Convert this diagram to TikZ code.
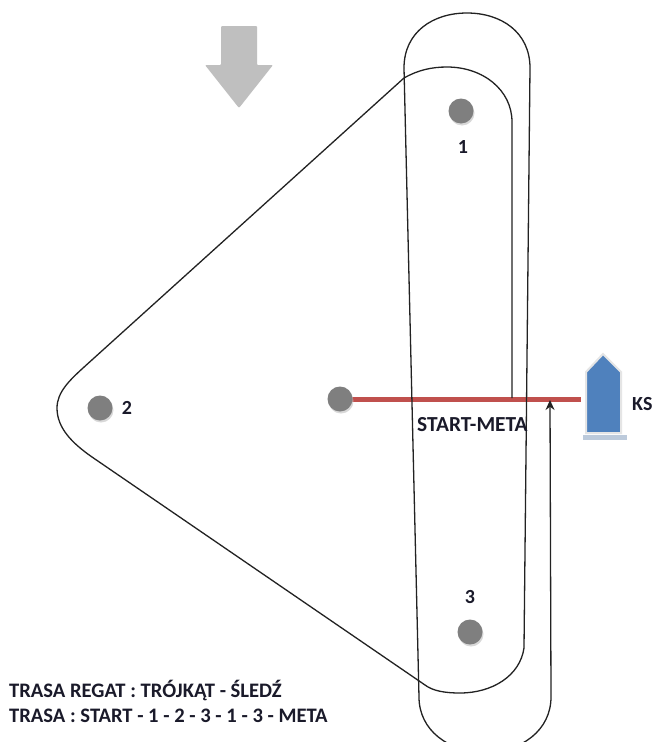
\documentclass[tikz,border=0pt]{standalone}
\usepackage{fontspec}
\setmainfont{Carlito}
\usetikzlibrary{arrows.meta,shadows}
\definecolor{dotgray}{HTML}{7F7F7F}
\definecolor{windgray}{HTML}{BFBFBF}
\definecolor{linered}{HTML}{C0504D}
\definecolor{boatblue}{HTML}{4F81BD}
\definecolor{inkc}{HTML}{222222}
\definecolor{labc}{HTML}{1A1A2A}
\tikzset{
  mark dot/.style={circle,fill=dotgray,draw=none,minimum size=25pt,inner sep=0pt,
    drop shadow={shadow xshift=1pt,shadow yshift=-2pt,fill=black!25,opacity=.6}},
  lab/.style={font=\bfseries\fontsize{20}{24}\selectfont,text=labc,inner sep=0pt},
  track/.style={draw=inkc,line width=1.3pt,line join=round},
}
\begin{document}
\begin{tikzpicture}[x=1pt,y=-1pt]
\useasboundingbox (0,0) rectangle (651,742);
\clip (0,0) rectangle (651,742);
\fill[white] (0,0) rectangle (651,742);
% wind arrow
\fill[windgray,rounded corners=1pt] (221,26) -- (257,26) -- (257,65) -- (273,65) -- (239,108) -- (205,65) -- (221,65) -- cycle;
% boat
\fill[black!20!boatblue!35] (583,435) rectangle (627,440);
\draw[draw=black!10,line width=2pt,fill=boatblue] (586,372) -- (603,354) -- (621,372) -- (621,433) -- (586,433) -- cycle;
\node[inner sep=0pt,minimum width=1pt,minimum height=1pt] (boat) at (582,399) {};
% start line, drawn from the mark's centre under the mark
\coordinate (msc) at (340,399);
\draw[linered,line width=5pt] (msc) -- (boat);
% marks
\node[mark dot] (m1) at (461,111) {};
\node[mark dot] (m2) at (100,408) {};
\node[mark dot] (m3) at (470,632) {};
\node[mark dot] (ms) at (msc) {};
\node[lab] (l1) at (463,147) {1};
\node[lab] (l2) at (127,408) {2};
\node[lab] (l3) at (470,597) {3};
\node[lab,anchor=west] (ks) at (632,404) {KS};
\coordinate (lineend) at (512,398);
\coordinate (arrowend) at (550,400);
\coordinate (outerstart) at (404,68);
% first lap track
\draw[track] (outerstart) .. controls (404,32) and (433,13) .. (467,13)
  .. controls (501,13) and (530,32) .. (530,68)
  -- (524,648) .. controls (520,676) and (492,693) .. (460,693)
  .. controls (445,693) and (433,691) .. (425,685)
  -- (92,457) .. controls (72,443) and (57,428) .. (57,408)
  .. controls (57,392) and (70,380) .. (83,368)
  -- (404,78) .. controls (418,70) and (432,67) .. (447,67)
  .. controls (483,67) and (512,90) .. (512,122)
  -- (lineend);
% second lap track
\draw[track,-{Stealth[length=10pt,width=9pt]}] (outerstart) -- (419,697)
  .. controls (419,730) and (448,752) .. (485,752)
  .. controls (522,752) and (551,730) .. (551,697)
  -- (arrowend);
\node[lab,anchor=west,font=\bfseries\fontsize{21.4}{24}\selectfont] (sm) at (417,425) {START-META};
\node[lab,anchor=west,font=\bfseries\fontsize{20.6}{24}\selectfont] (t1) at (9,691) {TRASA REGAT : TRÓJKĄT - ŚLEDŹ};
\node[lab,anchor=west,font=\bfseries\fontsize{20.6}{24}\selectfont] (t2) at (9,716) {TRASA : START - 1 - 2 - 3 - 1 - 3 - META};
\end{tikzpicture}
\end{document}
